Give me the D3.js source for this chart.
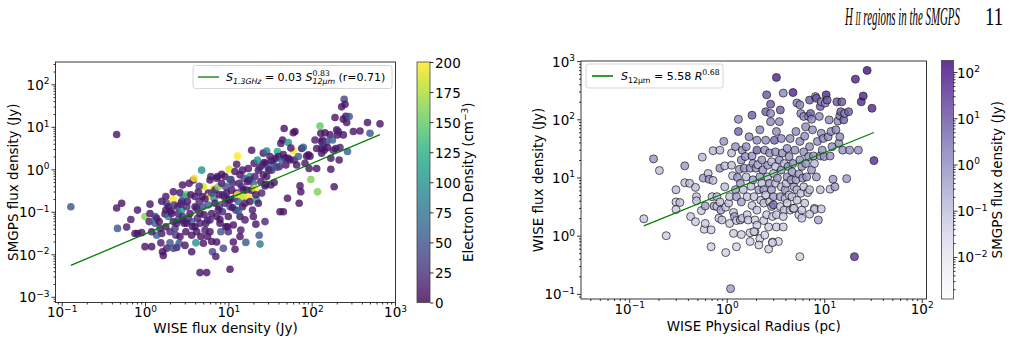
<!DOCTYPE html>
<html>
<head>
<meta charset="utf-8">
<script src="https://cdn.jsdelivr.net/npm/d3@7"></script>
<style>
  body { margin: 0; background: #fff; }
  svg text { font-family: "DejaVu Sans", sans-serif; fill: #000; }
</style>
</head>
<body>
<div id="chart"></div>
<script>
const width = 1011, height = 343;

// left panel: SMGPS 1.3 GHz flux vs WISE 12um flux (log10 Jy)
const leftWiseLog = [
  -0.89,-0.34,-0.34,-0.28,-0.33,-0.22,-0.17,-0.09,-0.12,-0.09,-0.04,0.0,0.0,0.06,0.05,0.06,0.08,0.12,
  0.14,0.12,0.17,0.18,0.2,0.19,0.21,0.22,0.24,0.25,0.25,0.26,0.28,0.28,0.3,0.3,0.32,0.34,0.34,0.35,0.34,0.36,0.37,0.38,0.39,0.4,0.4,0.41,0.42,0.44,0.44,0.45,0.46,0.45,0.47,0.48,0.49,0.5,0.51,0.5,0.52,0.53,0.54,0.56,0.56,0.57,0.58,0.59,0.6,0.6,0.61,0.62,0.63,
  0.64,0.65,0.66,0.66,0.67,0.66,0.68,0.69,0.69,0.7,0.71,0.72,0.73,0.74,0.75,0.76,0.76,0.77,0.78,0.79,0.78,0.78,0.8,0.8,0.81,0.82,0.83,0.84,0.84,0.85,0.86,0.87,0.88,0.89,0.89,0.9,0.91,0.92,0.93,0.94,0.95,0.96,0.96,0.97,0.98,0.99,1.0,1.0,1.01,1.02,1.02,1.02,
  1.03,1.04,1.05,1.06,1.07,1.08,1.08,1.09,1.1,1.11,1.11,1.12,1.13,1.14,1.14,1.15,1.16,1.17,1.18,1.19,1.2,1.2,1.21,1.22,1.23,1.24,1.25,1.26,1.26,1.28,1.28,1.29,1.3,1.31,1.32,1.32,1.33,1.34,1.35,1.36,1.36,1.37,1.38,1.39,1.4,1.41,1.42,1.42,1.43,1.44,1.44,1.45,1.46,1.46,
  1.48,1.49,1.5,1.51,1.52,1.54,1.55,1.57,1.59,1.6,1.61,1.62,1.63,1.64,1.65,1.66,1.67,1.68,1.69,1.71,1.72,1.72,1.74,1.78,1.78,1.79,1.8,1.82,1.84,1.85,1.86,1.87,1.88,1.9,1.92,1.94,1.96,1.97,1.99,1.98,
  2.04,2.06,2.06,2.07,2.1,2.11,2.12,2.12,2.13,2.14,2.15,2.16,2.18,2.19,2.22,2.23,2.23,2.25,2.26,2.27,2.28,2.29,2.3,2.31,2.32,2.33,2.34,2.36,2.38,2.39,2.4,2.41,2.42,2.43,2.45,2.5,2.58,2.67,2.7,2.82,2.38,2.12,
  0.14,0.26,0.38,0.5,0.08,0.34,0.42,0.56,0.7,0.86,1.06,1.14,1.3,1.17,1.02,0.86,
  0.31,0.43,0.55,0.62,0.72,0.8,0.88,0.93,1.0,1.05,1.12,1.18,1.25,1.33,1.38,1.45,1.52,1.58,1.66,1.75,0.25,0.46,0.6,0.75,0.9,0.97,0.65,0.92,1.1,0.2
];
const leftSmgpsLog = [
  -0.88,0.82,-0.91,-0.80,-1.39,-1.36,-1.18,-0.96,-1.51,-1.51,-1.49,-1.82,-1.11,-0.82,-1.23,-1.04,-1.82,-1.11,
  -1.15,-1.27,-1.23,-1.39,-1.51,-1.73,-1.94,-2.03,-1.05,-0.96,-0.64,-0.8,-0.88,-1.11,-1.47,-1.73,-1.04,-0.53,-0.71,-0.84,-1.23,-1.39,-1.55,-1.84,-0.88,-1.04,-1.19,-1.74,-0.55,-0.76,-0.96,-0.37,-0.64,-1.11,-1.27,-1.79,-1.47,-0.6,-0.76,-0.88,-1.15,-0.33,-1.04,-1.23,-1.55,-1.35,-0.25,-0.21,-0.64,-0.88,-1.73,-1.47,-1.15,
  -0.53,-0.76,-1.04,-1.27,-1.58,-2.43,-0.02,-0.64,-0.88,-0.41,-1.07,-1.43,-1.27,-2.43,-1.58,-0.56,-0.84,-0.64,-0.25,-0.17,-1.19,-1.47,-1.7,-1.04,-1.94,-0.45,-0.68,-0.8,-0.49,-2.05,-1.11,-0.17,-0.41,-0.6,-0.88,-1.27,-1.47,-0.33,-1.0,-1.86,-0.64,-0.8,-0.17,-0.41,-0.56,-1.35,-1.47,-1.11,0.0,-2.35,-0.88,-0.72,
  -0.24,-0.49,-0.33,-1.31,-0.68,-1.88,-0.05,-0.96,-0.56,0.31,-0.6,-0.76,-0.33,-0.13,-1.11,-1.43,-0.41,-0.88,-0.64,-0.21,-0.8,-1.19,-1.72,-0.49,-0.29,0.02,-0.64,-0.17,-0.76,0.45,-0.49,-0.96,-0.33,0.14,-0.45,-0.17,-1.29,-0.72,0.22,-0.02,-0.8,-1.55,-1.76,-0.29,-0.56,0.1,0.38,-0.13,0.16,-1.23,-0.39,0.14,-0.17,0.43,
  0.02,-0.02,0.3,-0.37,-0.02,0.14,-0.31,0.26,0.42,0.3,0.06,-1.0,0.61,0.22,0.69,-1.0,0.96,0.27,0.1,-0.68,0.63,0.26,0.22,0.43,0.86,0.22,0.89,0.1,0.3,-0.8,-0.39,-0.53,0.49,0.52,0.14,0.31,0.34,0.02,-0.24,0.31,
  0.69,0.49,0.02,-0.53,1.02,0.85,0.65,0.49,0.69,0.57,0.45,0.86,0.65,0.51,0.81,0.26,0.0,0.69,0.45,-0.41,1.22,0.49,0.93,0.81,0.89,0.22,0.51,1.47,1.18,1.65,1.53,1.25,1.1,0.42,1.24,0.89,0.9,1.1,0.85,1.07,0.81,0.38,
  -1.55,-1.86,-1.27,-1.27,-1.47,-1.86,-1.58,-1.94,-1.74,-1.71,-1.71,-1.58,-1.11,-0.02,-0.25,-0.21,
  -0.98,-0.82,-0.6,-0.92,-0.7,-0.56,-0.95,-0.6,-0.72,-0.9,-0.98,-0.48,-0.25,-0.6,0.05,-0.35,0.2,0.05,0.35,0.5,-1.35,-1.2,-1.35,-1.2,-1.18,-1.35,-0.4,-0.12,0.12,-0.75
];
// electron density (cm^-3), estimated from the viridis colour
const leftDensity = [
  50,10,10,10,50,15,15,10,10,15,10,10,160,10,15,10,10,40,
  20,60,10,20,10,15,10,10,10,15,10,40,10,80,20,50,10,10,200,30,10,30,30,10,20,15,40,50,10,10,100,10,60,20,10,10,10,140,10,20,30,10,10,50,10,15,10,200,15,10,100,10,20,
  10,20,10,15,10,10,100,10,40,190,10,15,10,10,10,10,60,200,10,15,20,10,10,10,40,200,100,10,10,15,10,15,160,10,30,10,50,10,20,40,10,15,10,40,10,10,20,10,190,10,40,10,
  15,10,20,10,15,10,10,30,10,200,200,60,10,10,10,15,30,10,180,40,10,15,50,10,10,10,200,100,10,10,10,15,60,10,200,15,10,120,100,10,10,50,80,10,20,30,10,10,15,20,10,10,10,80,
  60,10,10,15,30,60,10,10,120,10,15,10,10,60,10,10,10,30,10,10,100,10,10,200,10,15,10,10,60,10,10,10,10,60,10,10,10,10,160,10,
  15,10,10,160,150,10,10,10,10,30,10,10,40,10,10,10,10,60,20,10,10,10,10,10,20,10,15,10,10,40,10,10,10,60,50,10,10,10,50,10,10,10,
  60,15,15,10,10,40,10,10,10,10,10,10,10,10,60,10,
  10,20,10,15,10,40,10,20,10,10,60,10,15,10,20,10,10,40,10,10,10,15,10,20,10,10,30,10,10,10
];

// right panel: WISE 12um flux vs WISE physical radius (log10 pc, log10 Jy)
const rightRadiusLog = [
  -0.85,-0.75,-0.69,-0.62,-0.52,-0.52,-0.52,-0.48,-0.43,-0.43,-0.38,-0.37,-0.32,-0.31,-0.31,-0.32,-0.26,-0.25,-0.24,-0.23,-0.22,-0.22,-0.19,-0.18,-0.16,-0.16,-0.15,-0.14,-0.14,-0.13,-0.1,-0.1,-0.08,-0.07,-0.07,-0.07,-0.06,-0.05,-0.03,-0.02,-0.02,-0.01,-0.01,0.02,0.03,0.03,0.04,0.05,0.05,0.06,
  0.07,0.07,0.08,0.09,0.09,0.1,0.1,0.11,0.12,0.12,0.13,0.14,0.14,0.15,0.15,0.16,0.16,0.17,0.18,0.19,0.2,0.2,0.21,0.21,0.22,0.23,0.24,0.24,0.25,0.26,0.26,0.26,0.27,0.27,0.28,0.29,0.29,0.3,0.31,0.31,0.31,0.31,0.32,0.33,0.34,0.34,0.34,0.35,0.36,0.36,
  0.37,0.38,0.38,0.38,0.39,0.39,0.4,0.4,0.4,0.41,0.41,0.42,0.42,0.43,0.43,0.44,0.44,0.44,0.45,0.45,0.45,0.46,0.46,0.46,0.47,0.47,0.48,0.48,0.48,0.49,0.5,0.5,0.5,0.51,0.51,0.51,0.51,0.52,0.53,0.54,0.54,0.55,0.55,0.55,0.56,0.56,0.56,0.57,0.58,0.58,
  0.59,0.59,0.6,0.6,0.61,0.62,0.62,0.62,0.63,0.64,0.64,0.65,0.65,0.66,0.67,0.67,0.68,0.68,0.68,0.69,0.7,0.71,0.71,0.72,0.72,0.72,0.74,0.74,0.75,0.75,0.75,0.76,0.76,0.77,0.77,0.78,0.79,0.79,0.79,0.8,0.8,0.81,0.81,0.82,0.83,0.84,0.84,0.85,0.85,0.85,
  0.86,0.87,0.87,0.88,0.89,0.9,0.9,0.91,0.92,0.92,0.93,0.94,0.95,0.96,0.96,0.97,0.97,0.98,0.99,1.0,1.01,1.02,1.05,1.03,1.04,1.06,1.07,1.08,1.09,1.11,1.12,1.13,1.14,1.15,1.16,1.16,1.17,1.18,1.19,1.2,1.21,1.25,1.26,1.32,1.38,1.4,1.31,1.44,1.49,1.51,
  0.1,0.15,0.24,0.28,0.33,0.47,0.75,0.9,0.97,0.96,0.77,0.58,0.69,0.85,1.23,1.06,1.35
];
const rightWiseLog = [
  0.29,1.32,1.12,0.0,0.79,0.58,0.45,0.57,1.2,0.91,0.9,0.33,0.83,0.67,0.6,0.24,0.43,1.35,0.99,0.11,0.51,0.21,1.07,0.97,0.1,-0.19,0.67,1.46,0.95,0.51,0.67,0.5,0.3,1.47,1.16,0.58,0.44,0.27,1.62,1.2,0.84,-0.29,0.49,0.56,0.67,0.21,-0.91,1.42,1.21,1.03,
  0.4,0.04,0.33,1.53,0.79,0.26,0.67,1.0,2.0,1.79,1.14,0.9,0.27,1.3,0.58,1.47,0.3,0.79,1.16,1.36,1.53,1.01,0.36,0.67,0.27,1.7,1.16,0.05,0.85,2.07,0.52,1.37,1.24,0.96,0.67,0.27,0.07,1.16,1.64,1.47,0.44,0.18,1.22,0.79,-0.05,1.82,1.01,0.61,1.3,0.9,
  1.13,0.79,0.56,0.26,1.47,0.01,1.64,0.7,2.13,2.42,0.36,1.21,1.01,0.15,-0.23,0.9,1.42,0.58,2.26,2.1,1.96,1.27,0.79,0.5,0.33,-0.11,1.07,0.67,0.53,1.64,1.44,1.19,0.9,0.15,2.72,1.79,0.36,0.99,-0.1,1.96,1.3,0.67,0.5,2.16,1.13,1.67,0.84,1.42,0.15,2.45,
  0.44,1.24,0.79,0.64,0.9,1.01,1.5,0.56,1.19,1.36,0.7,1.67,0.44,0.96,0.67,1.1,2.46,1.24,0.47,0.84,1.47,1.79,0.96,2.28,0.61,0.79,1.06,0.36,2.25,1.62,1.3,0.73,2.1,1.19,0.44,0.99,2.05,1.44,0.84,1.71,0.56,1.87,1.24,1.01,0.74,2.05,1.36,1.53,2.33,0.79,
  2.1,1.13,2.0,1.82,1.37,1.24,0.47,2.39,1.01,2.36,1.62,0.27,2.05,1.37,2.22,2.3,1.76,1.47,1.67,1.36,2.28,2.42,1.99,2.33,1.7,0.8,1.79,1.53,0.97,0.84,1.82,2.3,1.97,1.59,1.7,2.06,2.13,2.3,1.47,1.99,2.1,2.13,1.47,2.69,2.3,2.4,-0.36,2.84,2.19,1.29,
  -0.19,0.02,-0.1,0.07,-0.16,-0.12,-0.36,0.45,0.46,0.79,0.3,0.33,0.47,0.37,0.98,1.37,1.47
];
// SMGPS flux (Jy) used for the purple colour
const rightSmgps = [
  0.08,0.6,0.1,0.05,0.1,0.08,0.06,0.08,0.5,0.1,0.1,0.06,0.1,0.08,0.08,0.05,0.06,0.12,0.5,0.05,0.4,0.05,0.1,0.5,0.05,0.04,0.08,0.12,0.1,0.4,0.08,0.07,0.06,0.12,0.6,0.08,0.4,0.06,0.7,0.1,0.1,0.04,0.07,0.08,0.08,0.05,0.5,0.12,0.1,0.1,
  0.08,0.05,0.4,0.8,0.5,0.06,0.5,0.6,0.9,5,0.6,0.5,0.3,0.7,0.4,0.8,0.06,0.1,0.6,0.7,0.8,0.1,0.06,0.08,0.05,0.9,0.6,0.04,0.1,6,0.08,0.7,0.6,0.5,0.08,0.05,0.04,0.6,0.9,5,0.07,0.05,0.12,0.5,0.04,1,0.5,0.08,0.7,0.1,
  0.6,0.5,0.08,0.05,0.8,0.04,0.9,0.08,6,8,0.06,0.7,0.1,0.05,0.04,0.5,0.8,0.08,7,1,1,0.12,0.5,0.4,0.06,0.04,0.1,0.5,3,5,0.8,0.1,0.1,0.05,60,1,0.06,0.6,0.04,1,0.7,0.5,0.07,6,0.6,0.9,0.1,0.8,0.05,1.2,
  0.07,0.12,0.5,0.08,0.1,0.6,0.8,0.07,0.6,0.7,0.08,0.9,0.06,0.5,0.08,0.6,50,0.7,0.06,0.5,0.8,1,0.5,1.2,0.08,0.1,0.6,0.05,1.2,0.9,0.7,0.08,1,0.6,0.06,0.5,1,0.8,0.1,0.9,0.07,1,0.7,0.6,0.1,1.1,0.7,0.8,6,0.1,
  6,0.6,1,0.9,0.7,0.12,0.06,1.2,0.5,8,0.8,0.3,1,0.7,6,1.2,0.9,0.8,0.9,0.7,1.2,40,1,7,0.9,0.1,0.9,0.8,0.5,0.5,1,8,1,0.8,0.9,1.1,6,8,0.8,5,1.1,7,0.8,60,40,50,30,100,50,40,
  0.04,0.05,0.04,0.05,0.04,0.05,0.04,0.08,0.08,0.1,0.06,0.06,0.07,0.07,0.5,0.7,0.8
];

const fitLeft = { a: 0.03, b: 0.83 };   // S_1.3GHz = 0.03 S_12um^0.83
const fitRight = { a: 5.58, b: 0.68 };  // S_12um = 5.58 R^0.68
const densityTicks = [0, 25, 50, 75, 100, 125, 150, 175, 200];

const svg = d3.select("#chart").append("svg")
  .attr("width", width).attr("height", height);
const defs = svg.append("defs");

const isDecade = v => Math.abs(Math.log10(v) - Math.round(Math.log10(v))) < 1e-6;

function sup10(sel, e) {
  sel.append("tspan").text("10");
  sel.append("tspan").attr("font-size", 9).attr("dy", -5.5)
    .text(e < 0 ? "\u2212" + (-e) : String(e));
}

function logAxis(g, scale, orient) {
  const r = scale.range();
  const lo = Math.min(...r) - 0.5, hi = Math.max(...r) + 0.5;
  const all = scale.ticks().filter(v => scale(v) >= lo && scale(v) <= hi);
  const major = all.filter(isDecade), minor = all.filter(v => !isDecade(v));
  const make = orient === "bottom" ? d3.axisBottom : orient === "left" ? d3.axisLeft : d3.axisRight;
  g.append("g").call(make(scale).tickValues(minor).tickSize(2).tickFormat(() => ""));
  const gm = g.append("g").call(make(scale).tickValues(major).tickSize(4).tickFormat(() => ""));
  g.selectAll(".domain").remove();
  g.selectAll(".tick text").remove();
  g.selectAll(".tick line").attr("stroke", "#000").attr("stroke-width", 0.8);
  gm.selectAll(".tick").append("text")
    .attr("fill", "#000")
    .attr("font-size", 13.5)
    .attr("text-anchor", orient === "bottom" ? "middle" : orient === "left" ? "end" : "start")
    .attr("x", orient === "bottom" ? 0 : orient === "left" ? -6 : 3.5)
    .attr("y", orient === "bottom" ? 14.5 : 5)
    .each(function (v) { sup10(d3.select(this), Math.round(Math.log10(v))); });
}

// place text pieces one after another (mathtext-like sub/superscripts)
function richText(g, x, y, parts) {
  let cx = x, stackX = null, stackW = 0;
  parts.forEach(p => {
    const px = p.stack ? stackX : cx;
    const t = g.append("text")
      .attr("x", px).attr("y", y + (p.dy || 0))
      .attr("font-size", p.size)
      .attr("font-style", p.italic ? "italic" : null)
      .attr("fill", "#000")
      .text(p.t);
    const w = t.node().getComputedTextLength();
    if (p.stack) {
      cx = stackX + Math.max(stackW, w);
    } else {
      stackX = px; stackW = w; cx = px + w;
    }
  });
}

function rotLabel(x, y, parts) {
  const t = svg.append("text")
    .attr("transform", `translate(${x},${y}) rotate(-90)`)
    .attr("text-anchor", "middle").attr("font-size", 13.5).attr("fill", "#000");
  parts.forEach(p => {
    const s = t.append("tspan").text(p.t);
    if (p.size) s.attr("font-size", p.size);
    if (p.dy) s.attr("dy", p.dy);
  });
}

// squeeze a serif text horizontally into a given width (page header is condensed)
function condensed(x, y, w, size, italic, build) {
  const t = svg.append("text")
    .attr("font-size", size).attr("fill", "#000")
    .attr("font-style", italic ? "italic" : null)
    .style("font-family", "'Liberation Serif', serif");
  build(t);
  const nat = t.node().getComputedTextLength();
  t.attr("transform", `translate(${x},${y}) scale(${w / nat},1)`);
}

// ---------------- header
condensed(845, 25, 115, 26, true, t => {
  t.append("tspan").text("H ");
  t.append("tspan").attr("font-size", 18).text("II");
  t.append("tspan").text(" regions in the SMGPS");
});
condensed(985, 25, 18, 26, false, t => t.text("11"));

// ---------------- left panel
const L = { x0: 55.5, x1: 395.5, y0: 62, y1: 302.5 };
const xL = d3.scaleLog().domain([10 ** -1.074, 10 ** 3.006]).range([L.x0, L.x1]);
const yL = d3.scaleLog().domain([10 ** -3.134, 10 ** 2.525]).range([L.y1, L.y0]);
const cDensity = d3.scaleSequential(d3.interpolateViridis).domain([0, 200]);

const leftPts = leftWiseLog.map((v, i) => ({ x: 10 ** v, y: 10 ** leftSmgpsLog[i], c: leftDensity[i] }));

svg.append("g").selectAll("circle")
  .data(leftPts)
  .join("circle")
  .attr("cx", d => xL(d.x))
  .attr("cy", d => yL(d.y))
  .attr("r", 3.8)
  .attr("fill", d => cDensity(d.c))
  .attr("opacity", 0.8);

const xfL = d3.extent(leftPts, d => d.x);
svg.append("path")
  .attr("d", d3.line()(xfL.map(x => [xL(x), yL(fitLeft.a * x ** fitLeft.b)])))
  .attr("stroke", "green").attr("stroke-width", 1.3).attr("fill", "none");

logAxis(svg.append("g").attr("transform", `translate(0,${L.y1})`), xL, "bottom");
logAxis(svg.append("g").attr("transform", `translate(${L.x0},0)`), yL, "left");
svg.append("rect")
  .attr("x", L.x0).attr("y", L.y0).attr("width", L.x1 - L.x0).attr("height", L.y1 - L.y0)
  .attr("fill", "none").attr("stroke", "#222").attr("stroke-width", 0.9);

// legend
const lgL = svg.append("g");
lgL.append("rect").attr("x", 193).attr("y", 65.5).attr("width", 199).attr("height", 23)
  .attr("rx", 2.5).attr("fill", "#fff").attr("fill-opacity", 0.8)
  .attr("stroke", "#d0d0d0").attr("stroke-width", 0.9);
lgL.append("line").attr("x1", 198).attr("x2", 219).attr("y1", 77).attr("y2", 77)
  .attr("stroke", "green").attr("stroke-width", 1.3);
richText(lgL, 226, 81, [
  { t: "S", size: 11, italic: true },
  { t: "1.3GHz", size: 7.8, italic: true, dy: 2.5 },
  { t: "\u00a0=\u00a00.03\u00a0", size: 11 },
  { t: "S", size: 11, italic: true },
  { t: "0.83", size: 7.8, dy: -5 },
  { t: "12\u03bcm", size: 7.8, italic: true, dy: 3, stack: true },
  { t: "\u00a0(r=0.71)", size: 11 }
]);

svg.append("text").attr("x", (L.x0 + L.x1) / 2).attr("y", 333)
  .attr("text-anchor", "middle").attr("font-size", 13.5).text("WISE flux density (Jy)");
rotLabel(18, (L.y0 + L.y1) / 2, [{ t: "SMGPS flux density (Jy)" }]);

// density colourbar
const cbL = { x0: 417, x1: 430, y0: 62, y1: 302.5 };
const gradV = defs.append("linearGradient").attr("id", "gv")
  .attr("x1", 0).attr("y1", 1).attr("x2", 0).attr("y2", 0);
d3.range(0, 1.0001, 0.05).forEach(t =>
  gradV.append("stop").attr("offset", t).attr("stop-color", d3.interpolateViridis(t)));
svg.append("rect").attr("x", cbL.x0).attr("y", cbL.y0)
  .attr("width", cbL.x1 - cbL.x0).attr("height", cbL.y1 - cbL.y0)
  .attr("fill", "url(#gv)").attr("fill-opacity", 0.8);
svg.append("rect").attr("x", cbL.x0).attr("y", cbL.y0)
  .attr("width", cbL.x1 - cbL.x0).attr("height", cbL.y1 - cbL.y0)
  .attr("fill", "none").attr("stroke", "#444").attr("stroke-width", 0.8);
const yCbL = d3.scaleLinear().domain([0, 200]).range([cbL.y1, cbL.y0]);
const gCbL = svg.append("g").attr("transform", `translate(${cbL.x1},0)`)
  .call(d3.axisRight(yCbL).tickValues(densityTicks).tickSize(3.5).tickFormat(() => ""));
gCbL.select(".domain").remove();
gCbL.selectAll(".tick text").remove();
gCbL.selectAll(".tick line").attr("stroke", "#000").attr("stroke-width", 0.8);
gCbL.selectAll(".tick").append("text")
  .attr("x", 5).attr("y", 5).attr("font-size", 13.5).attr("fill", "#000")
  .text(d => d);
rotLabel(473, (cbL.y0 + cbL.y1) / 2, [
  { t: "Electron Density (cm" },
  { t: "\u22123", size: 9, dy: -5.5 },
  { t: ")", dy: 5.5 }
]);

// ---------------- right panel
const R = { x0: 581, x1: 926.5, y0: 61, y1: 299 };
const xR = d3.scaleLog().domain([10 ** -1.494, 10 ** 2.049]).range([R.x0, R.x1]);
const yR = d3.scaleLog().domain([10 ** -1.088, 10 ** 3.002]).range([R.y1, R.y0]);
const cbR = { x0: 941.5, x1: 953.5, y0: 60.5, y1: 299 };
const fluxNorm = d3.scaleLog().domain([10 ** -2.91, 10 ** 2.25]).range([0, 1]).clamp(true);
const cFlux = v => d3.interpolatePurples(fluxNorm(v));

const rightPts = rightRadiusLog.map((v, i) => ({ x: 10 ** v, y: 10 ** rightWiseLog[i], s: rightSmgps[i] }));

svg.append("g").selectAll("circle")
  .data(rightPts)
  .join("circle")
  .attr("cx", d => xR(d.x))
  .attr("cy", d => yR(d.y))
  .attr("r", 4)
  .attr("fill", d => cFlux(d.s))
  .attr("stroke", "#000").attr("stroke-width", 0.8)
  .attr("opacity", 0.8);

const xfR = d3.extent(rightPts, d => d.x);
svg.append("path")
  .attr("d", d3.line()(xfR.map(x => [xR(x), yR(fitRight.a * x ** fitRight.b)])))
  .attr("stroke", "green").attr("stroke-width", 1.3).attr("fill", "none");

logAxis(svg.append("g").attr("transform", `translate(0,${R.y1})`), xR, "bottom");
logAxis(svg.append("g").attr("transform", `translate(${R.x0},0)`), yR, "left");
svg.append("rect")
  .attr("x", R.x0).attr("y", R.y0).attr("width", R.x1 - R.x0).attr("height", R.y1 - R.y0)
  .attr("fill", "none").attr("stroke", "#222").attr("stroke-width", 0.9);

const lgR = svg.append("g");
lgR.append("rect").attr("x", 586).attr("y", 64).attr("width", 137).attr("height", 24)
  .attr("rx", 2.5).attr("fill", "#fff").attr("fill-opacity", 0.8)
  .attr("stroke", "#d0d0d0").attr("stroke-width", 0.9);
lgR.append("line").attr("x1", 592).attr("x2", 613).attr("y1", 76).attr("y2", 76)
  .attr("stroke", "green").attr("stroke-width", 1.6);
richText(lgR, 621, 80, [
  { t: "S", size: 11, italic: true },
  { t: "12\u03bcm", size: 7.8, dy: 2.5 },
  { t: "\u00a0=\u00a05.58\u00a0", size: 11 },
  { t: "R", size: 11, italic: true },
  { t: "0.68", size: 7.8, dy: -5 }
]);

svg.append("text").attr("x", (R.x0 + R.x1) / 2).attr("y", 331)
  .attr("text-anchor", "middle").attr("font-size", 13.5).text("WISE Physical Radius (pc)");
rotLabel(543, (R.y0 + R.y1) / 2, [{ t: "WISE flux density (Jy)" }]);

// SMGPS flux colourbar
const gradP = defs.append("linearGradient").attr("id", "gp")
  .attr("x1", 0).attr("y1", 1).attr("x2", 0).attr("y2", 0);
d3.range(0, 1.0001, 0.05).forEach(t =>
  gradP.append("stop").attr("offset", t).attr("stop-color", d3.interpolatePurples(t)));
svg.append("rect").attr("x", cbR.x0).attr("y", cbR.y0)
  .attr("width", cbR.x1 - cbR.x0).attr("height", cbR.y1 - cbR.y0)
  .attr("fill", "url(#gp)").attr("fill-opacity", 0.8);
svg.append("rect").attr("x", cbR.x0).attr("y", cbR.y0)
  .attr("width", cbR.x1 - cbR.x0).attr("height", cbR.y1 - cbR.y0)
  .attr("fill", "none").attr("stroke", "#444").attr("stroke-width", 0.8);
const yCbR = d3.scaleLog().domain(fluxNorm.domain()).range([cbR.y1, cbR.y0]);
logAxis(svg.append("g").attr("transform", `translate(${cbR.x1},0)`), yCbR, "right");
rotLabel(1002, (cbR.y0 + cbR.y1) / 2, [{ t: "SMGPS flux density (Jy)" }]);
</script>
</body>
</html>
